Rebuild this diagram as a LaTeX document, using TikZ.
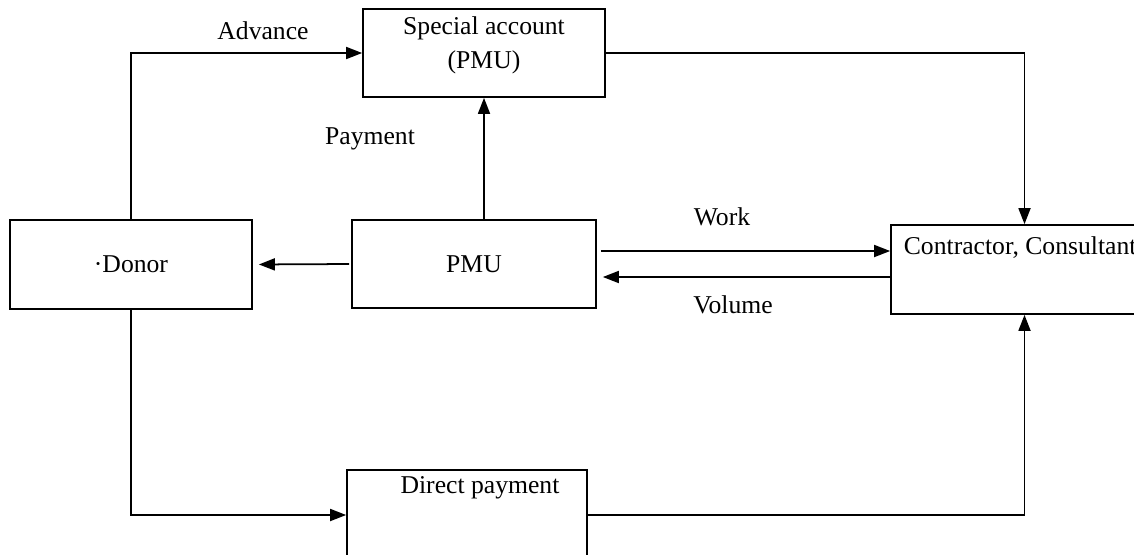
\documentclass[tikz,border=0pt]{standalone}
\usepackage{fontspec}
\setmainfont{Liberation Serif}
\usepackage{tikz}
\usetikzlibrary{arrows.meta}

\begin{document}
\begin{tikzpicture}[x=0.02cm, y=-0.02cm, line width=1pt,
        >={Triangle[length=0.32cm,width=0.24cm]},
        every node/.style={font=\fontsize{14.6}{17.5}\selectfont},
        box/.style={draw, rectangle, inner sep=0pt}]
        \useasboundingbox (0,0) rectangle (1134,555);
        \clip (0,0) rectangle (1134,555);
        \node[box, minimum width=4.84cm, minimum height=1.76cm] (acct) at (484,53) {};
        \node[align=center, inner sep=0pt] (acctt) at (484,45) {Special account\\[2pt](PMU)};
        \node[box, minimum width=4.84cm, minimum height=1.78cm] (donor) at (131,264.5) {·Donor};
        \node[box, minimum width=4.88cm, minimum height=1.76cm] (pmu) at (474,264) {PMU};
        \node[box, minimum width=5.34cm, minimum height=1.78cm] (contr) at (1024.5,269.5) {};
        \node[anchor=west, inner sep=0pt] (contrt) at (903,248) {Contractor, Consultant};
        \node[box, minimum width=4.8cm, minimum height=1.8cm] (direct) at (467,515) {};
        \node[inner sep=0pt] (directt) at (480,488) {Direct payment};
        \node (adv) at (263,31) {Advance};
        \node (pay) at (370,139) {Payment};
        \node (work) at (722,217) {Work};
        \node (vol) at (733,305) {Volume};
        \draw[->] (donor.north) |- (acct.west);
        \draw[->] (acct.east) -| (contr.north);
        \draw[->] (pmu.north -| acct.south) -- (acct.south);
        \draw[->, shorten <=0.04cm, shorten >=0.12cm] (pmu.west) -- (donor.east);
        \draw[->, shorten <=0.08cm] ([yshift=0.26cm]pmu.east) -- ([yshift=0.26cm]pmu.east -| contr.west);
        \draw[->, shorten >=0.12cm] ([yshift=-0.26cm]pmu.east -| contr.west) -- ([yshift=-0.26cm]pmu.east);
        \draw[->] (donor.south) |- (direct.west);
        \draw[->] (direct.east) -| (contr.south);
    \end{tikzpicture}
\end{document}
